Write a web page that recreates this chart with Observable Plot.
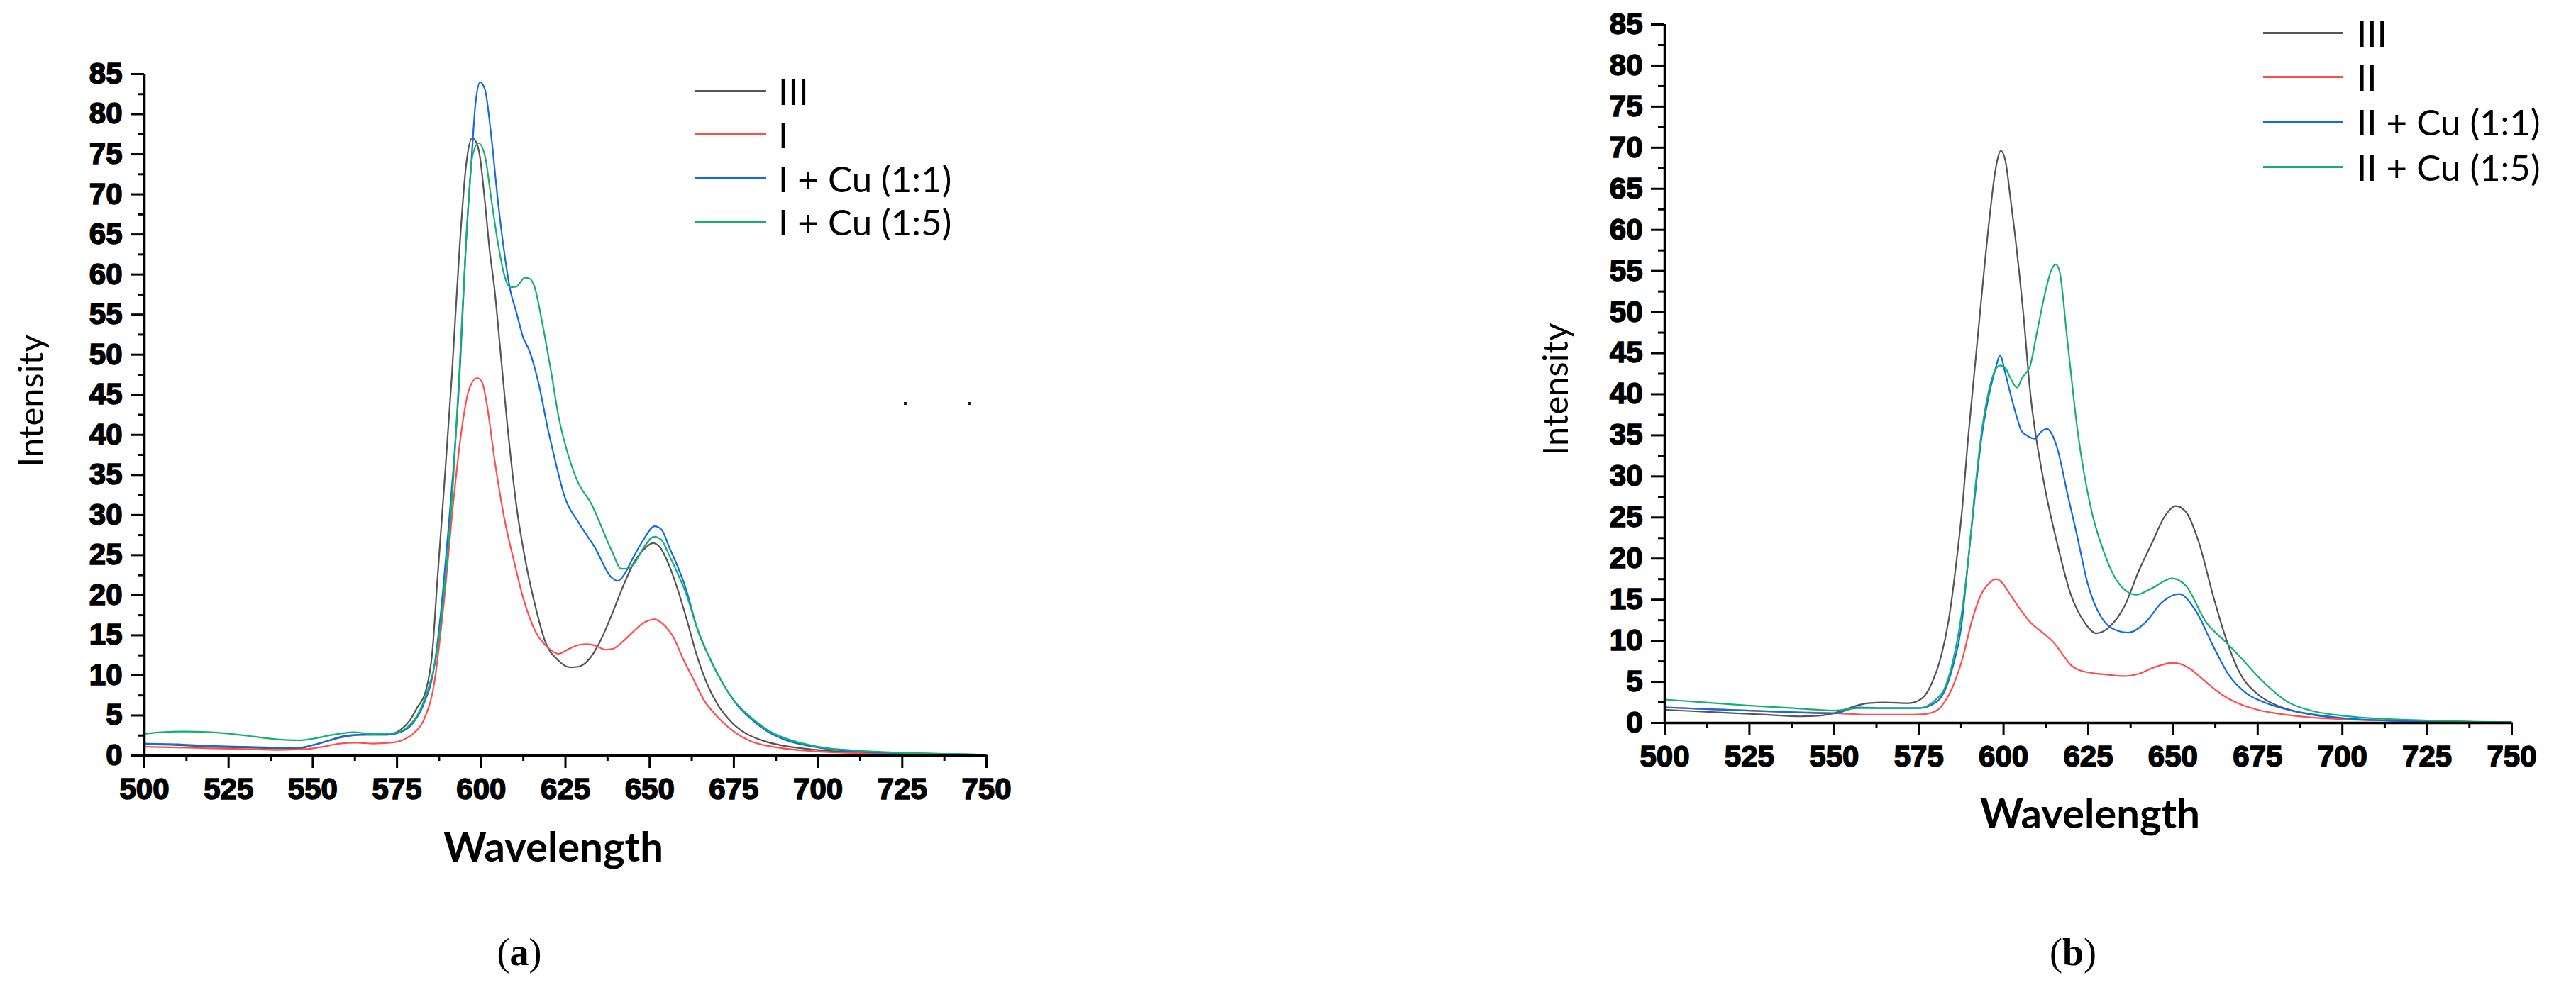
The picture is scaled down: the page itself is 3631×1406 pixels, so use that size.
<!DOCTYPE html>
<html><head><meta charset="utf-8">
<script src="https://cdn.jsdelivr.net/npm/d3@7"></script>
<script src="https://cdn.jsdelivr.net/npm/@observablehq/plot@0.6"></script>
<style>
body{margin:0;background:#fff;}
#root{position:relative;width:3631px;height:1406px;overflow:hidden;background:#fff;}
.abs{position:absolute;white-space:pre;color:#000;line-height:1;}
.c{transform:translate(-50%,-50%);}
.lab{font-family:Lato,"Open Sans",sans-serif;}
.leg{font-family:Lato,"Open Sans",sans-serif;font-size:51px;transform:translateY(-50%);}
.sw{position:absolute;height:3px;}
.cap{font-family:"Liberation Serif",serif;font-size:54px;}
svg text{font-family:"Liberation Sans",Arial,sans-serif;font-weight:bold;stroke:#000;stroke-width:1.6px;}
</style></head><body><div id="root"></div>
<script>
// ---------- categories / tick labels ----------
const seriesA = ["III", "I", "I + Cu (1:1)", "I + Cu (1:5)"];
const seriesB = ["III", "II", "II + Cu (1:1)", "II + Cu (1:5)"];
const colors = ["#555555", "#ff4d4d", "#0f6ce6", "#14b06e"];
const xTicks = [500, 525, 550, 575, 600, 625, 650, 675, 700, 725, 750];
const yTicks = [0, 5, 10, 15, 20, 25, 30, 35, 40, 45, 50, 55, 60, 65, 70, 75, 80, 85];

// ---------- panel (a) series: [wavelength, intensity] ----------
const aIII = [[500,1.4],[510,1.3],[520,1.1],[530,1.0],[540,0.9],[546,0.9],[550,1.3],[555,1.9],[560,2.5],[566,2.6],[572,2.6],[576,3.2],[579,4.5],[581,6],[583.5,8],[585.5,13],[587,22],[588.9,33],[591.3,47.5],[593.6,63.5],[595.5,73.6],[597.3,77],[598.5,76.5],[599.5,75],[601,69.5],[602.5,63],[604,58],[605.8,50],[607.7,41.5],[610.5,31],[613.4,23.7],[616.2,18.4],[619,14.2],[622.8,11.9],[626.5,11],[629,11.1],[632,12],[635,14],[638.5,17.3],[642,21],[645.5,24.2],[649,26],[651,26.5],[653,26],[656,23.5],[658.5,20.5],[661,17],[664,12.5],[667,9],[670,6.5],[674,4.3],[678,2.9],[684,1.8],[690,1.2],[700,0.7],[712,0.4],[725,0.3],[740,0.15],[750,0.1]];
const aI = [[500,1.1],[510,1.0],[520,0.9],[530,0.8],[540,0.7],[548,0.8],[553,1.1],[558,1.5],[563,1.6],[568,1.5],[573,1.6],[577,2.0],[580,2.8],[583,4.5],[586,8.9],[588.9,19],[591.7,31.5],[594.1,40.4],[596.4,45.7],[598.8,47.1],[600.3,46.5],[601.6,44],[604,36.8],[606.8,29.7],[609.7,24.3],[612.5,19.6],[616.2,15.4],[620,13.4],[623,12.7],[626,13.3],[629,13.8],[631.5,13.9],[634,13.7],[637,13.2],[639,13.3],[642,14.2],[645,15.4],[648,16.5],[651.5,17],[654,16.4],[657,14.8],[660,12],[663,9.5],[666,7],[670,4.9],[675,3],[680,1.8],[688,1],[700,0.5],[712,0.3],[725,0.2],[750,0.05]];
const aCu11 = [[500,1.5],[510,1.4],[520,1.2],[530,1.1],[540,1.0],[546,1.0],[550,1.3],[555,1.9],[560,2.4],[566,2.6],[572,2.6],[577,3.1],[580,4.2],[583,6.5],[586,11],[588,17.8],[590,27],[591.7,35.6],[593.6,47.5],[595.5,64],[597,73.6],[598.3,81.3],[599.7,84],[601.1,83.1],[603,77.2],[604.9,69.4],[606.8,62.9],[608.6,58.1],[610.5,55.2],[612.4,52.2],[614.3,50.5],[617.1,46.3],[619.9,40.5],[621,38.5],[625,32],[629,29],[633.8,25.9],[638.7,22.2],[640.6,21.8],[642.5,22.6],[644.5,24.2],[648,26.8],[651.5,28.6],[653.5,28.2],[656,25.8],[658,23.9],[661,20.5],[664,16],[668,12],[672,8.8],[676,6.3],[680,4.6],[685,3.0],[690,2.0],[700,1.0],[712,0.5],[725,0.3],[740,0.2],[750,0.1]];
const aCu15 = [[500,2.7],[505,2.9],[512,3.0],[520,2.9],[530,2.5],[540,2.0],[546,1.9],[550,2.1],[556,2.6],[562,2.9],[568,2.7],[574,2.8],[578,3.5],[581,5],[584,8],[586.5,12],[588,16.6],[590,25],[591.7,34.4],[593.6,48.7],[595.5,64.1],[597.4,74.8],[599.2,76.4],[601.1,74.8],[603,69.4],[604.9,64.1],[606.8,60],[608.6,58.4],[610.5,58.5],[612.9,59.6],[614.3,59.5],[615.8,58.5],[618.1,54],[620.9,47.5],[623,42.2],[625.4,38.1],[628.4,34.4],[632.8,31.3],[638.7,25.6],[641.6,23.3],[643.5,23.3],[645.5,24],[648,25.8],[651.4,27.3],[653.5,26.9],[656,24.8],[658,23],[661,20],[664,16],[668,12],[672,8.8],[676,6.4],[680,4.8],[685,3.2],[690,2.2],[700,1.1],[712,0.6],[725,0.35],[740,0.2],[750,0.1]];

// ---------- panel (b) series ----------
const bIII = [[500,1.6],[510,1.4],[520,1.2],[530,1.0],[540,0.8],[546,0.9],[550,1.2],[555,1.9],[560,2.4],[565,2.5],[572,2.4],[576,3.0],[579,5],[581.5,8],[583.8,12.5],[586.2,20],[587.9,26.5],[589.4,34],[591.7,44],[594,54],[596,62],[597.5,67],[599.2,69.6],[600.5,68.5],[602,64],[603.5,59],[605.8,50],[607.8,40.5],[611.8,29.5],[615.8,21.9],[619.8,15.7],[623.8,12.3],[627.4,10.9],[631.8,11.9],[635.8,14.3],[639.8,18.4],[643.8,21.9],[647.8,25.3],[650.8,26.4],[653.8,25.7],[657.7,21.9],[661.7,15.7],[665.7,10.2],[669.7,6.1],[674.7,3.6],[679.7,2.3],[689.7,1.1],[699.7,0.55],[712,0.3],[725,0.2],[750,0.05]];
const bII = [[500,1.9],[512,1.7],[525,1.5],[538,1.3],[550,1.2],[560,1.0],[570,1.0],[576,1.05],[580,1.45],[582.5,2.5],[585,4.4],[588,8],[590.5,12.2],[593,15.3],[596,17.1],[597.8,17.5],[599.5,17.1],[602,15.6],[605,13.8],[607.8,12.3],[611.8,10.9],[615,9.7],[617.5,8.3],[620,7.0],[622.5,6.4],[625.8,6.1],[630,5.9],[635.8,5.7],[640,6.0],[644,6.7],[649.8,7.3],[652,7.2],[655,6.6],[658,5.6],[661.7,4.3],[665,3.3],[669.7,2.3],[675,1.6],[680,1.2],[690,0.7],[700,0.45],[712,0.3],[725,0.2],[750,0.05]];
const bCu11 = [[500,1.9],[512,1.7],[525,1.5],[538,1.3],[550,1.15],[557,1.9],[565,1.8],[575,1.8],[580,2.5],[582.5,3.8],[585,6.8],[587.5,11.6],[589.5,19.5],[591.5,27.4],[593.5,34.7],[595.5,39.5],[597.5,42.9],[599,44.7],[600.5,42.6],[602,40.1],[604,37.1],[605.2,35.6],[606.8,35],[609.2,34.6],[611,35.4],[612.8,35.8],[614.2,35.2],[615.8,33.5],[618.8,28],[621.8,22.6],[624.8,17],[628.8,12.9],[633.8,11.2],[636.8,11.0],[641.8,12.2],[646.8,14.7],[651.8,15.7],[656.8,13.6],[661.7,9.5],[666.7,5.7],[671.7,3.6],[677,2.5],[685,1.5],[692,1.0],[700,0.6],[712,0.3],[725,0.2],[740,0.1],[750,0.05]];
const bCu15 = [[500,2.85],[512,2.5],[525,2.1],[538,1.8],[545,1.6],[550,1.5],[557,1.8],[565,1.8],[575,1.8],[580,2.85],[582.5,4.1],[585,7.4],[587.5,12.9],[589.5,19.5],[591.5,28],[593.5,35.3],[595.5,40.1],[597.5,42.9],[599,43.5],[600.5,43.2],[602,42],[604,40.8],[605.5,42],[607.8,43.4],[609.8,47.4],[612.2,52.2],[614,55],[615.4,55.8],[616.5,55],[618.8,46.7],[621.8,35.7],[625.8,26.1],[629.8,20.6],[633.8,17.1],[639.2,15.6],[643.8,16.4],[649.8,17.6],[653.8,16.7],[659.7,12.3],[665.7,9.8],[669.7,8.1],[675.7,5.4],[683.7,2.6],[691.7,1.4],[699.7,0.9],[712,0.5],[725,0.3],[740,0.15],[750,0.1]];

const xMinor = d3.range(512.5, 750, 25);
const yMinor = d3.range(2.5, 85, 5);

function panel(series, data, o) {
  const rows = [];
  series.forEach((s, i) => data[i].forEach(([x, y]) => rows.push({s, x, y})));
  return Plot.plot({
    width: o.width, height: o.height,
    marginLeft: o.ml, marginRight: o.mr, marginTop: o.mt, marginBottom: o.mb,
    style: {background: "transparent", overflow: "visible", color: "#000",
            fontFamily: "Liberation Sans, Arial, sans-serif", fontSize: "42px", fontWeight: "bold"},
    x: {domain: [500, 750], label: null},
    y: {domain: [0, 85], label: null},
    color: {domain: series, range: colors},
    marks: [
      Plot.line(rows, {x: "x", y: "y", z: "s", stroke: "s", strokeWidth: 2.2, curve: "monotone-x"}),
      Plot.axisX({ticks: xTicks, tickSize: 18, tickPadding: 14, strokeWidth: 3, label: null, fontSize: 42, fontWeight: "bold"}),
      Plot.axisX({ticks: xMinor, tickSize: 8, strokeWidth: 3, text: null, label: null}),
      Plot.axisY({ticks: yTicks, tickSize: 19, tickPadding: 12, strokeWidth: 3, label: null, fontSize: 42, fontWeight: "bold"}),
      Plot.axisY({ticks: yMinor, tickSize: 9, strokeWidth: 3, text: null, label: null}),
      Plot.ruleX([500], {strokeWidth: 3.5}),
      Plot.ruleY([0], {strokeWidth: 3.5})
    ]
  });
}

const root = document.getElementById("root");
function place(el, left, top) { el.style.position = "absolute"; el.style.left = left + "px"; el.style.top = top + "px"; root.appendChild(el); }
function text(str, x, y, cls, style) {
  const d = document.createElement("div");
  d.className = "abs " + cls;
  d.innerHTML = str;
  d.style.left = x + "px"; d.style.top = y + "px";
  if (style) Object.assign(d.style, style);
  root.appendChild(d);
  return d;
}

// Panel (a): frame x 203..1390, y 104..1065
place(panel(seriesA, [aIII, aI, aCu11, aCu15], {width: 1500, height: 1250, ml: 203, mr: 110, mt: 104, mb: 185}), 0, 0);
// Panel (b): frame x 2346..3540, y 34..1019
place(panel(seriesB, [bIII, bII, bCu11, bCu15], {width: 1531, height: 1250, ml: 246, mr: 91, mt: 34, mb: 231}), 2100, 0);

// axis titles
text("Intensity", 42, 565, "lab c", {fontSize: "49px", transform: "translate(-50%,-50%) rotate(-90deg)"});
text("Wavelength", 780, 1193, "lab c", {fontSize: "58px", fontWeight: "bold"});
text("Intensity", 2191, 549, "lab c", {fontSize: "49px", transform: "translate(-50%,-50%) rotate(-90deg)"});
text("Wavelength", 2946, 1146, "lab c", {fontSize: "58px", fontWeight: "bold"});

// legends
function legend(series, x0, x1, tx, ys) {
  series.forEach((s, i) => {
    const sw = document.createElement("div");
    sw.className = "sw";
    sw.style.left = x0 + "px"; sw.style.width = (x1 - x0) + "px";
    sw.style.top = (ys[i] - 1.5) + "px"; sw.style.background = colors[i];
    root.appendChild(sw);
    text(s, tx, ys[i], "leg");
  });
}
legend(seriesA, 979, 1080, 1097, [128, 189, 251, 312]);
legend(seriesB, 3190, 3303, 3322, [46, 108, 171, 235]);

// stray dots in panel (a)
[[1274, 567], [1364, 567]].forEach(([x, y]) => {
  const d = document.createElement("div");
  d.style.cssText = `position:absolute;left:${x}px;top:${y}px;width:4px;height:4px;background:#222;`;
  root.appendChild(d);
});

// sub-figure captions
text("(<b>a</b>)", 732, 1343, "cap c");
text("(<b>b</b>)", 2922, 1343, "cap c");
</script>
</body></html>
